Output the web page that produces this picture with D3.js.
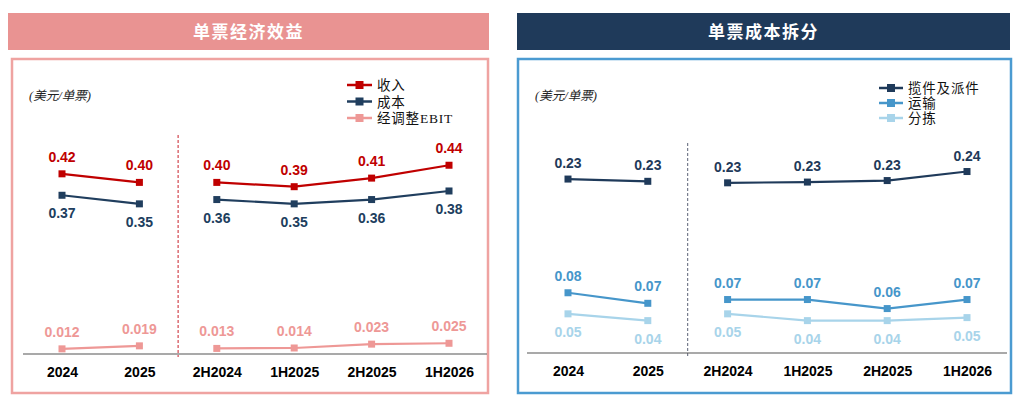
<!DOCTYPE html>
<html>
<head>
<meta charset="utf-8">
<script src="https://cdn.jsdelivr.net/npm/d3@7"></script>
<style>
  body { margin: 0; background: #fff; }
  svg { display: block; }
</style>
</head>
<body>
<svg id="chart" width="1024" height="405"></svg>
<script>
// categories shared by both panels
var categories = ["2024", "2025", "2H2024", "1H2025", "2H2025", "1H2026"];

// left panel: per-ticket economics (USD / ticket)
var revenue = [0.42, 0.40, 0.40, 0.39, 0.41, 0.44];
var cost = [0.37, 0.35, 0.36, 0.35, 0.36, 0.38];
var adjEbit = [0.012, 0.019, 0.013, 0.014, 0.023, 0.025];

// right panel: per-ticket cost breakdown (USD / ticket)
var pickupDelivery = [0.231, 0.228, 0.226, 0.227, 0.229, 0.241];
var transport = [0.080, 0.066, 0.071, 0.071, 0.059, 0.071];
var sorting = [0.052, 0.043, 0.052, 0.043, 0.043, 0.047];

const svg = d3.select('#chart');
const numFont = 'Liberation Sans, Arial, sans-serif';
const cjkSerif = '"Liberation Serif", "Noto Sans CJK SC", serif';

function drawPanel(opt) {
    let g = svg.append('g');

    // title banner
    g.append('rect')
        .attr('x', opt.bannerX)
        .attr('y', 13)
        .attr('width', opt.bannerW)
        .attr('height', 37)
        .style('fill', opt.bannerColor);

    g.append('text')
        .attr('x', opt.bannerX + opt.bannerW / 2)
        .attr('y', 38)
        .attr('text-anchor', 'middle')
        .style('font-family', '"Noto Sans CJK SC", sans-serif')
        .style('font-weight', 700)
        .style('font-size', '17px')
        .style('letter-spacing', '1.5px')
        .style('fill', '#fff')
        .text(opt.title);

    // framed box
    g.append('rect')
        .attr('x', opt.boxX)
        .attr('y', 59)
        .attr('width', opt.boxW)
        .attr('height', 334)
        .style('fill', 'none')
        .style('stroke', opt.boxColor)
        .style('stroke-width', 2.5);

    // unit label
    g.append('text')
        .attr('x', opt.boxX + 17)
        .attr('y', 100)
        .style('font-family', cjkSerif)
        .style('font-style', 'italic')
        .style('font-size', '12.5px')
        .style('fill', '#222')
        .text('(美元/单票)');

    const x = d3.scalePoint()
        .domain(categories)
        .range(opt.xRange);

    const y = d3.scaleLinear()
        .domain([0, 0.1])
        .range([opt.baseY, opt.baseY - opt.pxPerTenth]);

    // dashed separator between full years and half years
    const sepX = (x(categories[1]) + x(categories[2])) / 2;
    g.append('line')
        .attr('x1', sepX).attr('x2', sepX)
        .attr('y1', opt.sepTop).attr('y2', opt.baseY + 3)
        .style('stroke', opt.sepColor)
        .style('stroke-width', 1)
        .style('stroke-dasharray', '3,2');

    // baseline
    g.append('line')
        .attr('x1', opt.baseX1).attr('x2', opt.baseX2)
        .attr('y1', opt.baseY).attr('y2', opt.baseY)
        .style('stroke', '#555')
        .style('stroke-width', 1.2);

    // category axis
    let axis = g.append('g')
        .attr('transform', 'translate(0,' + opt.baseY + ')')
        .call(d3.axisBottom(x).tickSize(0).tickPadding(13));
    axis.select('.domain').remove();
    axis.selectAll('text')
        .style('font-family', numFont)
        .style('font-weight', 700)
        .style('font-size', '14px')
        .style('fill', '#000');

    // the two periods are drawn as separate lines
    opt.series.forEach(function (s) {
        [[0, 2], [2, 6]].forEach(function (seg) {
            const pts = s.values.slice(seg[0], seg[1]);
            g.append('path')
                .datum(pts)
                .attr('d', d3.line()
                    .x((d, i) => x(categories[seg[0] + i]))
                    .y(d => y(d)))
                .style('fill', 'none')
                .style('stroke', s.color)
                .style('stroke-width', 2.2);
        });

        g.selectAll(null)
            .data(s.values)
            .enter().append('rect')
            .attr('x', (d, i) => x(categories[i]) - 3.5)
            .attr('y', d => y(d) - 3.5)
            .attr('width', 7)
            .attr('height', 7)
            .style('fill', s.color);

        g.selectAll(null)
            .data(s.values)
            .enter().append('text')
            .attr('x', (d, i) => x(categories[i]))
            .attr('y', d => y(d) + s.labelDy)
            .attr('text-anchor', 'middle')
            .style('font-family', numFont)
            .style('font-weight', 700)
            .style('font-size', '14px')
            .style('fill', s.color)
            .text(d => d3.format(s.fmt)(d));
    });

    // legend
    opt.series.forEach(function (s, i) {
        const ly = opt.legendY + i * opt.legendStep;
        g.append('line')
            .attr('x1', opt.legendX).attr('x2', opt.legendX + opt.legendLen)
            .attr('y1', ly).attr('y2', ly)
            .style('stroke', s.color)
            .style('stroke-width', 2.5);
        g.append('rect')
            .attr('x', opt.legendX + opt.legendLen / 2 - 4)
            .attr('y', ly - 4)
            .attr('width', 8)
            .attr('height', 8)
            .style('fill', s.color);
        g.append('text')
            .attr('x', opt.legendX + opt.legendLen + 5)
            .attr('y', ly + 5)
            .style('font-family', cjkSerif)
            .style('font-size', '13.5px')
            .style('letter-spacing', '0.8px')
            .style('fill', '#111')
            .text(s.name);
    });
}

drawPanel({
    title: '单票经济效益',
    bannerX: 8, bannerW: 481, bannerColor: '#E99392',
    boxX: 12, boxW: 476, boxColor: '#EFA3A1',
    xRange: [62, 449],
    baseY: 354, pxPerTenth: 42.9,
    baseX1: 23, baseX2: 487,
    sepTop: 135, sepColor: '#C8202A',
    legendX: 347, legendLen: 25, legendY: 85, legendStep: 16.5,
    series: [
        { name: '收入', values: revenue, color: '#C00000', labelDy: -12, fmt: '.2f' },
        { name: '成本', values: cost, color: '#203E5E', labelDy: 23, fmt: '.2f' },
        { name: '经调整EBIT', values: adjEbit, color: '#EE9896', labelDy: -12, fmt: '.3f' }
    ]
});

drawPanel({
    title: '单票成本拆分',
    bannerX: 517, bannerW: 493, bannerColor: '#1F3A5A',
    boxX: 518, boxW: 493, boxColor: '#4B9BD1',
    xRange: [568, 967],
    baseY: 353, pxPerTenth: 75.3,
    baseX1: 527, baseX2: 1007,
    sepTop: 143, sepColor: '#5A6275',
    legendX: 879, legendLen: 24, legendY: 88, legendStep: 15,
    series: [
        { name: '揽件及派件', values: pickupDelivery, color: '#1F3A5A', labelDy: -11, fmt: '.2f' },
        { name: '运输', values: transport, color: '#4696CA', labelDy: -12, fmt: '.2f' },
        { name: '分拣', values: sorting, color: '#A8D4EA', labelDy: 23, fmt: '.2f' }
    ]
});
</script>
</body>
</html>
